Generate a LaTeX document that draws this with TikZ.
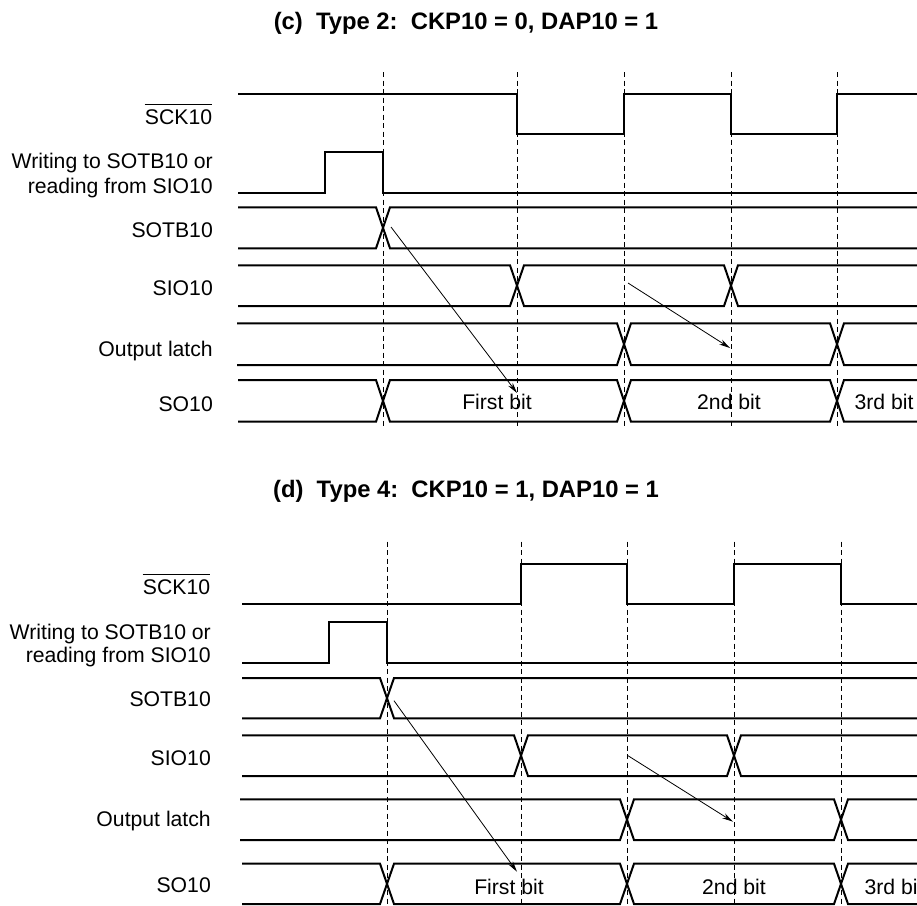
\documentclass[tikz,border=0pt]{standalone}
\usepackage{fontspec}
\setmainfont{Liberation Sans}
\usetikzlibrary{arrows.meta}
\tikzset{
  sig/.style={line width=2pt, line join=miter},
  guide/.style={line width=0.9pt, dash pattern=on 5pt off 3.5pt},
  flow/.style={line width=0.8pt, -{Stealth[length=11pt,width=5.5pt]}},
  lbl/.style={anchor=base east, inner sep=0pt, font=\fontsize{21.2}{25}\selectfont},
  bitlbl/.style={anchor=base, inner sep=0pt, font=\fontsize{21.2}{25}\selectfont},
  ttl/.style={anchor=base, inner sep=0pt, font=\fontsize{23.8}{28}\selectfont\bfseries},
}
\newcommand\ovl[1]{\tikz[baseline=0pt]{\node[anchor=base,inner sep=0pt](o){#1};\draw[line width=1pt]([yshift=4.8pt]o.north west)--([yshift=4.8pt]o.north east);}}
\begin{document}
\begin{tikzpicture}[x=1pt,y=-1pt]
\useasboundingbox (0,0) rectangle (917,905);
% ================= panel (c) =================
\node[ttl] (tc) at (466,29) {(c)\ \ Type 2:\ \ CKP10 = 0, DAP10 = 1};
\foreach \x in {383,517,624,731,837} \draw[guide] (\x,72) -- (\x,428);
% labels
\node[lbl] (c-sck) at (213,124.3) {\ovl{SCK10}};
\node[lbl] (c-wr1) at (213,168.3) {Writing to SOTB10 or};
\node[lbl] (c-wr2) at (213,193.3) {reading from SIO10};
\node[lbl] (c-sotb) at (213,237.3) {SOTB10};
\node[lbl] (c-sio) at (213,295) {SIO10};
\node[lbl] (c-ol) at (213,356) {Output latch};
\node[lbl] (c-so) at (213,411.7) {SO10};
% SCK10
\draw[sig] (238,93.7) -- (517,93.7) -- (517,134.3) -- (624,134.3) -- (624,93.7) -- (731,93.7) -- (731,134.3) -- (837,134.3) -- (837,93.7) -- (917,93.7);
% Writing
\draw[sig] (238,192.7) -- (325,192.7) -- (325,152.3) -- (383,152.3) -- (383,192.7) -- (917,192.7);
% SOTB10
\draw[sig] (238,207.3) -- (376,207.3) -- (390,248.3) -- (917,248.3);
\draw[sig] (238,248.3) -- (376,248.3) -- (390,207.3) -- (917,207.3);
% SIO10
\draw[sig] (238,265.3) -- (510,265.3) -- (524,306) -- (724,306) -- (738,265.3) -- (917,265.3);
\draw[sig] (238,306) -- (510,306) -- (524,265.3) -- (724,265.3) -- (738,306) -- (917,306);
% Output latch
\draw[sig] (237,323.3) -- (617,323.3) -- (631,365) -- (830,365) -- (844,323.3) -- (917,323.3);
\draw[sig] (237,365) -- (617,365) -- (631,323.3) -- (830,323.3) -- (844,365) -- (917,365);
% SO10
\draw[sig] (238,380) -- (376,380) -- (390,421.7) -- (617,421.7) -- (631,380) -- (830,380) -- (844,421.7) -- (917,421.7);
\draw[sig] (238,421.7) -- (376,421.7) -- (390,380) -- (617,380) -- (631,421.7) -- (830,421.7) -- (844,380) -- (917,380);
\node[bitlbl] (c-b1) at (497,409.3) {First bit};
\node[bitlbl] (c-b2) at (729,409.3) {2nd bit};
\node[bitlbl] (c-b3) at (884,409.3) {3rd bit};
% arrows
\coordinate (c-a1s) at (391,227);
\coordinate (c-a1e) at (517,393);
\coordinate (c-a2s) at (628,283);
\coordinate (c-a2e) at (730,348);
\draw[flow] (c-a1s) -- (c-a1e);
\draw[flow] (c-a2s) -- (c-a2e);
% ================= panel (d) =================
\node[ttl] (td) at (466,497.3) {(d)\ \ Type 4:\ \ CKP10 = 1, DAP10 = 1};
\foreach \x in {387,521,627,734,841} \draw[guide] (\x,541.7) -- (\x,906);
\node[lbl] (d-sck) at (211,594.3) {\ovl{SCK10}};
\node[lbl] (d-wr1) at (211,639) {Writing to SOTB10 or};
\node[lbl] (d-wr2) at (211,662.7) {reading from SIO10};
\node[lbl] (d-sotb) at (211,706.7) {SOTB10};
\node[lbl] (d-sio) at (211,765) {SIO10};
\node[lbl] (d-ol) at (211,826.7) {Output latch};
\node[lbl] (d-so) at (211,892.7) {SO10};
% SCK10
\draw[sig] (242,604.3) -- (521,604.3) -- (521,564) -- (627,564) -- (627,604.3) -- (734,604.3) -- (734,564) -- (841,564) -- (841,604.3) -- (917,604.3);
% Writing
\draw[sig] (242,663.3) -- (329,663.3) -- (329,622.3) -- (387,622.3) -- (387,663.3) -- (917,663.3);
% SOTB10
\draw[sig] (242,678) -- (380,678) -- (394,718.3) -- (917,718.3);
\draw[sig] (242,718.3) -- (380,718.3) -- (394,678) -- (917,678);
% SIO10
\draw[sig] (242,735.3) -- (514,735.3) -- (528,776) -- (727,776) -- (741,735.3) -- (917,735.3);
\draw[sig] (242,776) -- (514,776) -- (528,735.3) -- (727,735.3) -- (741,776) -- (917,776);
% Output latch
\draw[sig] (240,799.3) -- (620,799.3) -- (634,840) -- (834,840) -- (848,799.3) -- (917,799.3);
\draw[sig] (240,840) -- (620,840) -- (634,799.3) -- (834,799.3) -- (848,840) -- (917,840);
% SO10
\draw[sig] (242,863.7) -- (380,863.7) -- (394,904) -- (620,904) -- (634,863.7) -- (834,863.7) -- (848,904) -- (917,904);
\draw[sig] (242,904) -- (380,904) -- (394,863.7) -- (620,863.7) -- (634,904) -- (834,904) -- (848,863.7) -- (917,863.7);
\node[bitlbl] (d-b1) at (509,894) {First bit};
\node[bitlbl] (d-b2) at (734,894) {2nd bit};
\node[bitlbl] (d-b3) at (894,894) {3rd bit};
% arrows
\coordinate (d-a1s) at (394,700.7);
\coordinate (d-a1e) at (517,871.7);
\coordinate (d-a2s) at (628,755.7);
\coordinate (d-a2e) at (733,821.7);
\draw[flow] (d-a1s) -- (d-a1e);
\draw[flow] (d-a2s) -- (d-a2e);
\end{tikzpicture}
\end{document}
